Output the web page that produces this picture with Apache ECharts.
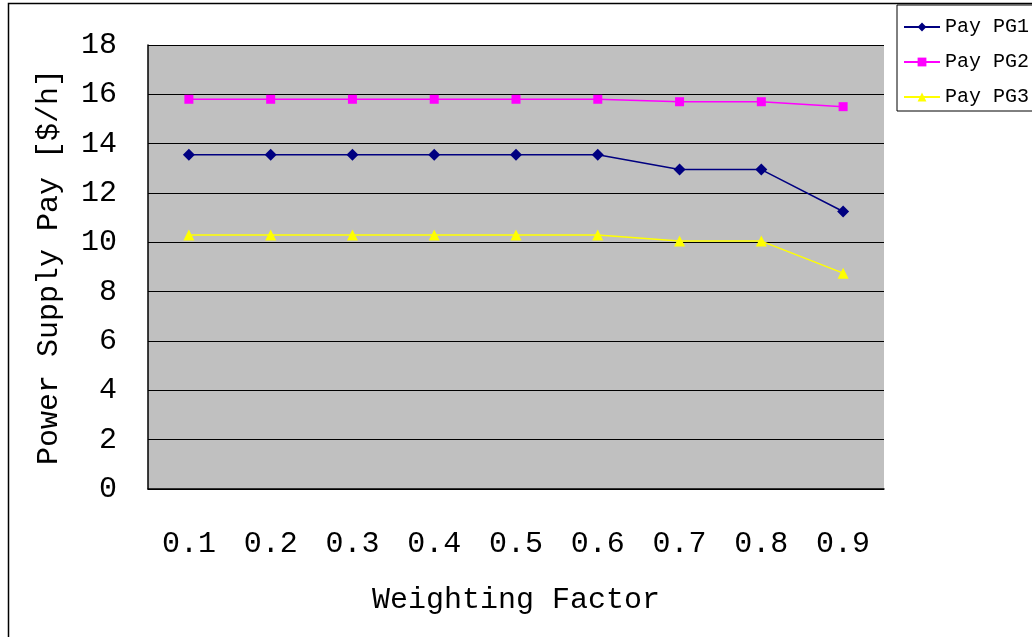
<!DOCTYPE html>
<html>
<head>
<meta charset="utf-8">
<script src="https://cdn.jsdelivr.net/npm/echarts@6/dist/echarts.min.js"></script>
<style>
html, body { margin: 0; padding: 0; background: #fff; }
#chart { width: 1032px; height: 637px; }
</style>
</head>
<body>
<div id="chart"></div>
<script>
var factors = ['0.1', '0.2', '0.3', '0.4', '0.5', '0.6', '0.7', '0.8', '0.9'];
var payPG1 = [13.55, 13.55, 13.55, 13.55, 13.55, 13.55, 12.95, 12.95, 11.25];
var payPG2 = [15.8, 15.8, 15.8, 15.8, 15.8, 15.8, 15.7, 15.7, 15.5];
var payPG3 = [10.3, 10.3, 10.3, 10.3, 10.3, 10.3, 10.05, 10.05, 8.75];

lineChart("chart");

// line chart
function lineChart(id) {
	var chart = echarts.init(document.getElementById(id));
	var font = 'Liberation Mono';
	option = {
		animation: false,
		graphic: [{
			type: 'rect',
			shape: { x: 8.5, y: 3.5, width: 1040, height: 650 },
			style: { fill: 'none', stroke: '#000', lineWidth: 1.5 },
			z: -1
		}],
		legend: {
			orient: 'vertical',
			left: 897,
			top: 5,
			padding: [11, 4, 3, 6],
			itemGap: 13,
			itemWidth: 36,
			itemHeight: 11,
			borderColor: '#000',
			borderWidth: 1,
			backgroundColor: '#fff',
			textStyle: { fontFamily: font, fontSize: 20, color: '#000', lineHeight: 22 },
			data: ['Pay PG1', 'Pay PG2', 'Pay PG3']
		},
		grid: {
			left: 148,
			right: 148,
			top: 45,
			bottom: 148,
			show: true,
			backgroundColor: '#C0C0C0',
			borderWidth: 0
		},
		xAxis: {
			type: 'category',
			data: factors,
			boundaryGap: true,
			name: 'Weighting Factor',
			nameLocation: 'middle',
			nameGap: 96,
			nameTextStyle: { fontFamily: font, fontSize: 30, color: '#000' },
			axisLine: { lineStyle: { color: '#000', width: 1.5 } },
			axisTick: { inside: true, length: 13, lineStyle: { color: '#000' } },
			axisLabel: { fontFamily: font, fontSize: 30, color: '#000', margin: 40 },
			splitLine: { show: false }
		},
		yAxis: {
			type: 'value',
			min: 0,
			max: 18,
			interval: 2,
			name: 'Power Supply Pay [$/h]',
			nameLocation: 'middle',
			nameGap: 84,
			nameTextStyle: { fontFamily: font, fontSize: 30, color: '#000' },
			axisLine: { show: true, lineStyle: { color: '#000', width: 1.5 } },
			axisTick: { show: true, inside: true, length: 12, lineStyle: { color: '#000' } },
			axisLabel: { fontFamily: font, fontSize: 30, color: '#000', margin: 31 },
			splitLine: { lineStyle: { color: '#000', width: 1 } }
		},
		series: [
			{
				name: 'Pay PG1',
				type: 'line',
				data: payPG1,
				symbol: 'diamond',
				symbolSize: 12,
				color: '#000080',
				lineStyle: { width: 1.5 }
			},
			{
				name: 'Pay PG2',
				type: 'line',
				data: payPG2,
				symbol: 'rect',
				symbolSize: 9,
				color: '#FF00FF',
				lineStyle: { width: 1.5 }
			},
			{
				name: 'Pay PG3',
				type: 'line',
				data: payPG3,
				symbol: 'triangle',
				symbolSize: 11,
				color: '#FFFF00',
				lineStyle: { width: 1.5 }
			}
		]
	};
	chart.setOption(option);
};
</script>
</body>
</html>
